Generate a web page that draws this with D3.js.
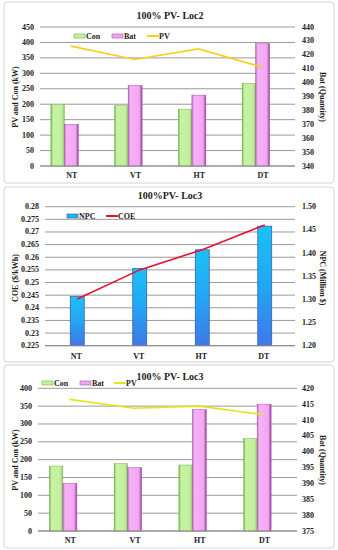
<!DOCTYPE html>
<html>
<head>
<meta charset="utf-8">
<script src="https://cdn.jsdelivr.net/npm/d3@7"></script>
<style>
  body { margin: 0; background: #fff; }
  text { font-family: "Liberation Serif", "DejaVu Serif", serif; font-weight: bold; fill: #222; }
</style>
</head>
<body>
<div id="chart"></div>
<script>
// data
const categories = ['NT', 'VT', 'HT', 'DT'];

const loc2Con = [200, 195, 184, 268];
const loc2Bat = [370, 398, 391, 428];
const loc2PV = [388, 345, 379, 320];
const loc2LeftTicks = [0, 50, 100, 150, 200, 250, 300, 350, 400, 450];
const loc2RightTicks = [340, 350, 360, 370, 380, 390, 400, 410, 420, 430, 440];

const loc3Npc = [1.306, 1.367, 1.407, 1.458];
const loc3Coe = [0.2435, 0.255, 0.263, 0.2728];
const loc3CoeTicks = [0.225, 0.23, 0.235, 0.24, 0.245, 0.25, 0.255, 0.26, 0.265, 0.27, 0.275, 0.28];
const loc3NpcTicks = [1.20, 1.25, 1.30, 1.35, 1.40, 1.45, 1.50];

const loc3Con = [182, 189, 185, 259];
const loc3Bat = [390, 395, 413.3, 415];
const loc3PV = [369, 344, 350, 326];
const loc3LeftTicks = [0, 50, 100, 150, 200, 250, 300, 350, 400];
const loc3RightTicks = [375, 380, 385, 390, 395, 400, 405, 410, 415, 420];

const width = 338, height = 550;

let svg = d3.select('#chart')
  .append('svg')
  .attr('width', width)
  .attr('height', height);

let defs = svg.append('defs');

function hGrad(id, stops) {
  let g = defs.append('linearGradient').attr('id', id)
    .attr('x1', 0).attr('x2', 1).attr('y1', 0).attr('y2', 0);
  stops.forEach(s => g.append('stop').attr('offset', s[0]).attr('stop-color', s[1]));
}
hGrad('gCon', [[0, '#6fae45'], [0.15, '#c6f2a2'], [0.8, '#c3efa0'], [1, '#8fc868']]);
hGrad('gBat', [[0, '#b56ab5'], [0.15, '#f6b2f6'], [0.8, '#f2a6f2'], [1, '#953d95']]);
let gNpc = defs.append('linearGradient').attr('id', 'gNpc')
  .attr('x1', 0).attr('x2', 0).attr('y1', 0).attr('y2', 1);
gNpc.append('stop').attr('offset', 0).attr('stop-color', '#1cc0f6');
gNpc.append('stop').attr('offset', 0.5).attr('stop-color', '#22a6f2');
gNpc.append('stop').attr('offset', 1).attr('stop-color', '#3f78e8');

function panelFrame(p) {
  svg.append('rect')
    .attr('x', p.box[0]).attr('y', p.box[1])
    .attr('width', p.box[2]).attr('height', p.box[3])
    .attr('rx', 3)
    .attr('fill', '#fff')
    .attr('stroke', '#d4d4d4');

  let g = svg.append('g');

  let x = d3.scaleBand().domain(categories).range([p.l, p.r]);
  let yL = d3.scaleLinear().domain(p.leftDomain).range([p.b, p.t]);
  let yR = d3.scaleLinear().domain(p.rightDomain).range([p.b, p.t]);

  // gridlines on the left axis ticks
  g.selectAll('line.grid').data(p.leftTicks).enter()
    .append('line')
    .attr('x1', p.l).attr('x2', p.r)
    .attr('y1', d => yL(d)).attr('y2', d => yL(d))
    .attr('stroke', '#9a9a9a').attr('stroke-width', 1);

  g.append('text')
    .attr('x', 170).attr('y', p.titleY)
    .attr('text-anchor', 'middle').attr('dominant-baseline', 'central')
    .style('font-size', '10px')
    .text(p.title);

  g.selectAll('text.lt').data(p.leftTicks).enter()
    .append('text')
    .attr('x', p.l - 6).attr('y', d => yL(d))
    .attr('text-anchor', 'end').attr('dominant-baseline', 'central')
    .style('font-size', '8px')
    .text(p.leftFmt);

  g.selectAll('text.rt').data(p.rightTicks).enter()
    .append('text')
    .attr('x', 302).attr('y', d => yR(d))
    .attr('dominant-baseline', 'central')
    .style('font-size', '8px')
    .text(p.rightFmt);

  g.selectAll('text.cat').data(categories).enter()
    .append('text')
    .attr('x', d => x(d) + x.bandwidth() / 2)
    .attr('y', p.catY)
    .attr('text-anchor', 'middle').attr('dominant-baseline', 'central')
    .style('font-size', '8px')
    .text(d => d);

  g.append('text')
    .attr('transform', `translate(15, ${p.ytY}) rotate(-90)`)
    .attr('text-anchor', 'middle').attr('dominant-baseline', 'central')
    .style('font-size', '8px')
    .text(p.leftTitle);

  g.append('text')
    .attr('transform', `translate(322, ${p.ytY}) rotate(90)`)
    .attr('text-anchor', 'middle').attr('dominant-baseline', 'central')
    .style('font-size', '8px')
    .text(p.rightTitle);

  return { g, x, yL, yR };
}

function lineMark(g, xs, ys, color, w) {
  let line = d3.line().x(d => d[0]).y(d => d[1]);
  g.append('path')
    .datum(xs.map((v, i) => [v, ys[i]]))
    .attr('d', line)
    .attr('fill', 'none')
    .attr('stroke', color)
    .attr('stroke-width', w);
}

function legendItem(g, x, y, kind, fill, stroke, label) {
  if (kind === 'box') {
    g.append('rect').attr('x', x).attr('y', y - 2).attr('width', 11).attr('height', 4)
      .attr('fill', fill).attr('stroke', stroke).attr('stroke-width', 0.6);
  } else {
    g.append('line').attr('x1', x).attr('x2', x + 12).attr('y1', y).attr('y2', y)
      .attr('stroke', fill).attr('stroke-width', 2);
  }
  g.append('text').attr('x', x + 12).attr('y', y)
    .attr('dominant-baseline', 'central')
    .style('font-size', '8px')
    .text(label);
}

// --- con / bat / pv panel
function conBatPanel(p, con, bat, pv, pvColor) {
  let { g, x, yL, yR } = panelFrame(p);
  let c = d => x(d) + x.bandwidth() / 2;

  g.selectAll('rect.con').data(categories).enter()
    .append('rect')
    .attr('x', d => c(d) - 21)
    .attr('y', (d, i) => yL(con[i]))
    .attr('width', 13.5)
    .attr('height', (d, i) => p.b - yL(con[i]))
    .attr('fill', 'url(#gCon)')
    .attr('stroke', '#7bb255').attr('stroke-width', 0.5);

  g.selectAll('rect.bat').data(categories).enter()
    .append('rect')
    .attr('x', d => c(d) - 7.5)
    .attr('y', (d, i) => yR(bat[i]))
    .attr('width', 14)
    .attr('height', (d, i) => p.b - yR(bat[i]))
    .attr('fill', 'url(#gBat)')
    .attr('stroke', '#a657a6').attr('stroke-width', 0.5);

  // bottom axis line
  g.append('line').attr('x1', p.l).attr('x2', p.r)
    .attr('y1', p.b).attr('y2', p.b)
    .attr('stroke', '#8a8a8a');

  lineMark(g, categories.map(d => c(d) + p.lineDx), pv.map(v => yL(v)), pvColor, 1.6);

  legendItem(g, p.leg[0], p.legY, 'box', '#c6f2a2', '#6fae45', 'Con');
  legendItem(g, p.leg[1], p.legY, 'box', '#f2a6f2', '#a657a6', 'Bat');
  legendItem(g, p.leg[2], p.legY, 'line', pvColor, null, 'PV');
}

conBatPanel({
  box: [4, 2, 330, 181],
  l: 40, r: 295, t: 27, b: 166,
  leftDomain: [0, 450], rightDomain: [340, 440],
  leftTicks: loc2LeftTicks, rightTicks: loc2RightTicks,
  leftFmt: d => d, rightFmt: d => d,
  title: '100% PV- Loc2', titleY: 15,
  catY: 175, ytY: 97,
  leftTitle: 'PV and Con (kW)', rightTitle: 'Bat (Quantity)',
  leg: [74, 112, 147], legY: 36, lineDx: -1
}, loc2Con, loc2Bat, loc2PV, '#f7cf1c');

// --- NPC / COE panel
(function () {
  let p = {
    box: [4, 187, 330, 175],
    l: 45, r: 295, t: 206.7, b: 345.7,
    leftDomain: [0.225, 0.28], rightDomain: [1.20, 1.50],
    leftTicks: loc3CoeTicks, rightTicks: loc3NpcTicks,
    leftFmt: d => +d.toFixed(3), rightFmt: d => d.toFixed(2),
    title: '100%PV- Loc3', titleY: 195,
    catY: 356, ytY: 278,
    leftTitle: 'COE ($/kWh)', rightTitle: 'NPC (Million $)'
  };
  let { g, x, yL, yR } = panelFrame(p);
  let c = d => x(d) + x.bandwidth() / 2 + 1;

  g.selectAll('rect.npc').data(categories).enter()
    .append('rect')
    .attr('x', d => c(d) - 7)
    .attr('y', (d, i) => yR(loc3Npc[i]))
    .attr('width', 14)
    .attr('height', (d, i) => p.b - yR(loc3Npc[i]))
    .attr('fill', 'url(#gNpc)')
    .attr('stroke', '#2f55a8').attr('stroke-width', 0.7);

  g.append('line').attr('x1', p.l).attr('x2', p.r)
    .attr('y1', p.b).attr('y2', p.b)
    .attr('stroke', '#8a8a8a');

  lineMark(g, categories.map(c), loc3Coe.map(v => yL(v)), '#e8112d', 1.6);

  legendItem(g, 67, 216, 'box', '#1cb8f4', '#2f55a8', 'NPC');
  legendItem(g, 106, 216, 'line', '#e8112d', null, 'COE');
})();

conBatPanel({
  box: [4, 365, 330, 183],
  l: 38, r: 297, t: 388.3, b: 531,
  leftDomain: [0, 400], rightDomain: [375, 420],
  leftTicks: loc3LeftTicks, rightTicks: loc3RightTicks,
  leftFmt: d => d, rightFmt: d => d,
  title: '100% PV- Loc3', titleY: 376,
  catY: 540, ytY: 460,
  leftTitle: 'PV and Con (kW)', rightTitle: 'Bat (Quantity)',
  leg: [42, 80, 114], legY: 383, lineDx: -1
}, loc3Con, loc3Bat, loc3PV, '#e4e41a');
</script>
</body>
</html>
